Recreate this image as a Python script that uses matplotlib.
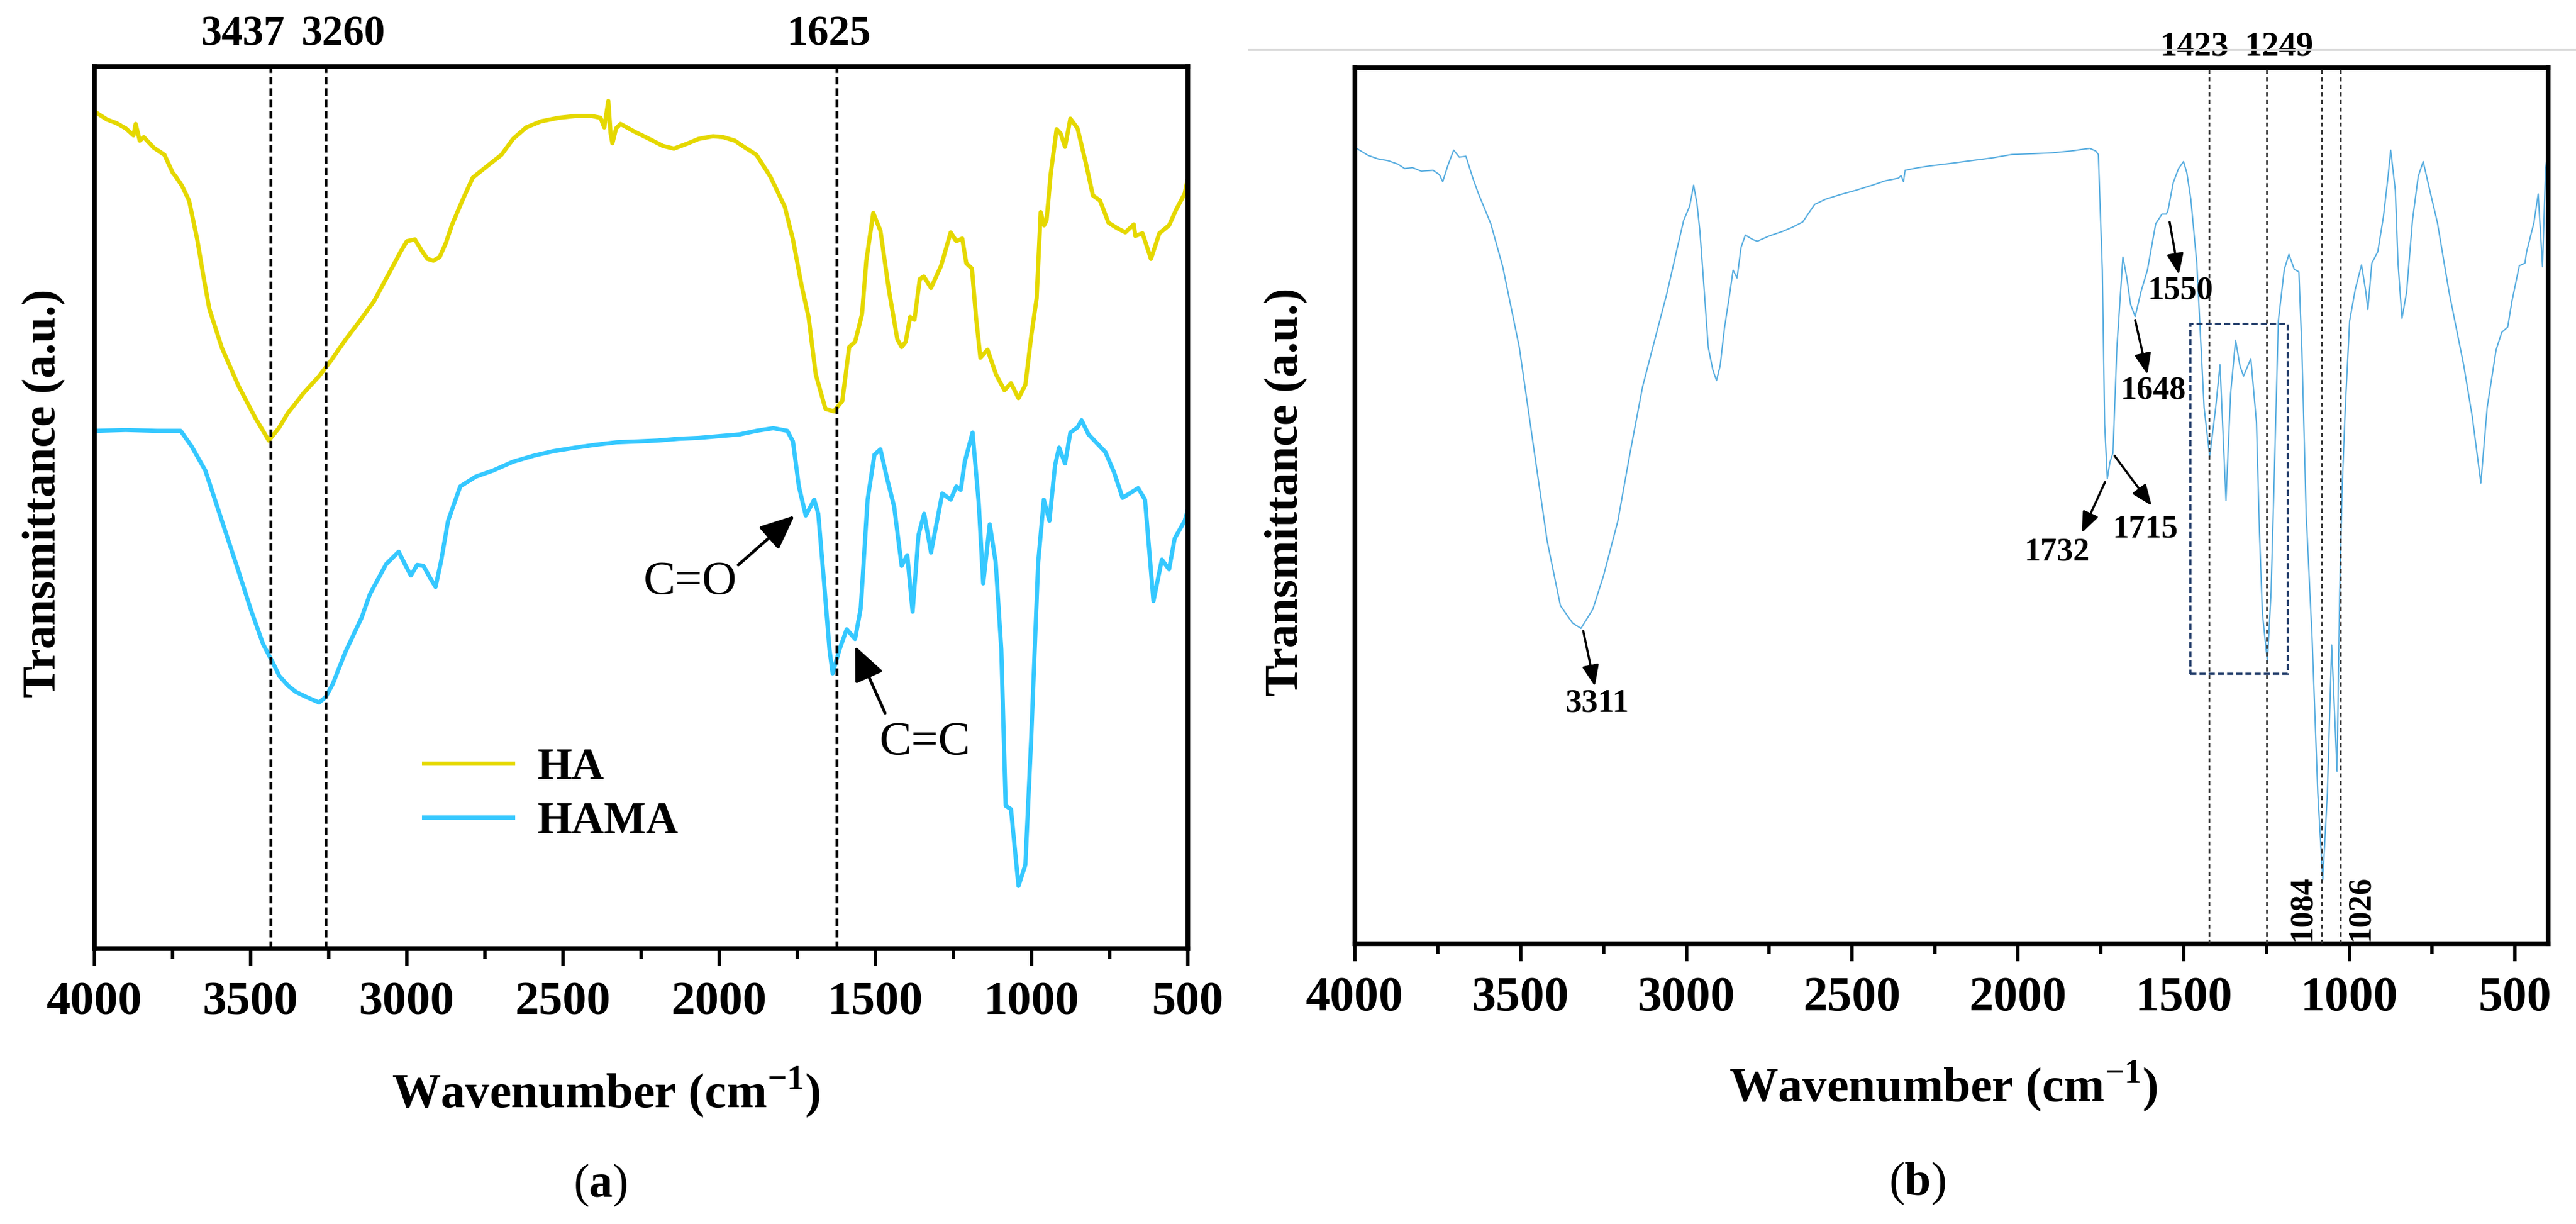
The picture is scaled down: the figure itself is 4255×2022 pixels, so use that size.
import numpy as np
import matplotlib.pyplot as plt
from matplotlib.patches import Rectangle
from matplotlib.lines import Line2D
from matplotlib.ticker import MultipleLocator

plt.rcParams['font.family'] = ['Liberation Serif', 'DejaVu Serif']
plt.rcParams['font.weight'] = 'bold'
plt.rcParams['axes.labelweight'] = 'bold'
plt.rcParams['mathtext.fontset'] = 'custom'
plt.rcParams['mathtext.rm'] = 'Liberation Serif'
plt.rcParams['mathtext.bf'] = 'Liberation Serif:bold'

x_ticks = [4000, 3500, 3000, 2500, 2000, 1500, 1000, 500]

# ---- panel (a): HA and HAMA spectra (wavenumber, transmittance in % of axis height)
ha_wn = [3995, 3960, 3930, 3900, 3875, 3868, 3855, 3842, 3810, 3776, 3750, 3737, 3720,
         3697, 3671, 3650, 3632, 3592, 3539, 3487, 3442, 3410, 3381, 3330, 3281, 3240,
         3197, 3150, 3105, 3052, 3020, 3000, 2974, 2950, 2934, 2915, 2895, 2875, 2855,
         2820, 2789, 2740, 2697, 2660, 2618, 2570, 2513, 2460, 2408, 2380, 2368, 2355,
         2348, 2342, 2330, 2316, 2270, 2224, 2180, 2145, 2100, 2066, 2020, 1987, 1950,
         1921, 1881, 1836, 1790, 1764, 1737, 1714, 1691, 1660, 1633, 1606, 1584, 1565,
         1543, 1529, 1507, 1484, 1457, 1430, 1416, 1403, 1389, 1375, 1358, 1345, 1322,
         1290, 1259, 1241, 1222, 1209, 1191, 1178, 1164, 1141, 1114, 1087, 1066, 1042,
         1020, 1001, 984, 971, 960, 952, 939, 920, 907, 893, 876, 853, 826, 804, 781,
         754, 727, 700, 673, 668, 645, 618, 591, 560, 537, 510, 502]
ha_t = [94.8, 94.0, 93.6, 93.0, 92.2, 93.5, 91.6, 92.0, 90.8, 90.0, 88.0, 87.4, 86.5,
        84.8, 80.4, 76.0, 72.5, 68.1, 63.8, 60.3, 57.6, 59.0, 60.7, 63.0, 64.9, 66.8,
        69.0, 71.2, 73.4, 76.9, 79.0, 80.2, 80.4, 79.0, 78.2, 78.0, 78.4, 80.0, 82.1,
        85.0, 87.4, 88.8, 90.0, 91.8, 93.1, 93.8, 94.2, 94.4, 94.4, 94.2, 93.1, 96.1,
        92.5, 91.3, 93.0, 93.5, 92.6, 91.8, 91.0, 90.7, 91.3, 91.8, 92.1, 92.0, 91.6,
        90.9, 90.0, 87.5, 84.1, 80.4, 75.3, 71.6, 65.1, 61.2, 60.9, 62.1, 68.2, 68.8,
        71.9, 78.0, 83.4, 81.4, 74.7, 69.1, 68.2, 68.8, 71.6, 71.3, 75.9, 76.2, 74.9,
        77.4, 81.2, 80.2, 80.5, 77.7, 77.1, 71.6, 67.0, 67.9, 65.1, 63.3, 64.1, 62.4,
        63.9, 69.5, 73.7, 83.5, 82.0, 82.6, 87.8, 92.9, 92.4, 90.9, 94.1, 93.0, 89.0,
        85.4, 84.8, 82.3, 81.7, 81.2, 82.1, 80.8, 81.1, 78.2, 81.1, 82.0, 83.8, 85.6, 87.0]

hama_wn = [3995, 3900, 3800, 3724, 3690, 3645, 3592, 3539, 3500, 3460, 3430, 3408, 3380,
           3355, 3320, 3281, 3260, 3237, 3197, 3145, 3118, 3066, 3026, 3005, 2987, 2967,
           2947, 2925, 2908, 2890, 2868, 2829, 2780, 2724, 2660, 2592, 2530, 2460, 2400,
           2329, 2260, 2197, 2130, 2066, 2000, 1934, 1881, 1827, 1782, 1764, 1745, 1723,
           1696, 1683, 1665, 1647, 1637, 1615, 1592, 1565, 1547, 1525, 1503, 1484, 1462,
           1440, 1416, 1398, 1381, 1362, 1344, 1322, 1286, 1259, 1241, 1227, 1214, 1189,
           1169, 1155, 1134, 1115, 1097, 1083, 1066, 1042, 1020, 1001, 979, 961, 943,
           925, 912, 893, 876, 853, 840, 818, 764, 736, 709, 659, 637, 610, 583, 560,
           542, 510, 502]
hama_t = [58.7, 58.8, 58.7, 58.7, 57.0, 54.2, 48.5, 42.8, 38.5, 34.5, 32.5, 30.9, 29.8,
          29.1, 28.5, 27.9, 28.5, 30.0, 33.6, 37.5, 40.2, 43.6, 45.0, 43.5, 42.3, 43.5,
          43.4, 42.0, 41.0, 44.0, 48.5, 52.4, 53.5, 54.2, 55.2, 55.9, 56.4, 56.8, 57.1,
          57.4, 57.5, 57.6, 57.8, 57.9, 58.1, 58.3, 58.7, 59.0, 58.7, 57.5, 52.4, 49.1,
          50.9, 49.3, 41.8, 33.9, 31.2, 33.9, 36.2, 35.1, 38.6, 50.9, 56.0, 56.6, 53.2,
          50.1, 43.4, 44.6, 38.2, 46.9, 49.3, 44.9, 51.6, 50.9, 52.4, 52.0, 55.2, 58.5,
          50.4, 41.4, 48.1, 43.8, 33.9, 16.2, 15.8, 7.1, 9.5, 24.1, 43.8, 50.9, 48.5,
          54.8, 56.8, 55.0, 58.5, 59.1, 59.9, 58.3, 56.3, 54.0, 51.1, 52.2, 50.9, 39.4,
          44.1, 43.0, 46.5, 48.5, 49.5]

a_peaks = [3437, 3260, 1625]
a_peak_label_x = [3525, 3204, 1650]
# label, text position, arrow tail, arrow head
a_arrows = [('C=O', (2092, 41.5), (1939, 43.5), (1759, 49.1)),
            ('C=C', (1342, 23.3), (1469, 26.7), (1565, 34.3))]

# ---- panel (b): single spectrum
b_wn = [3995, 3960, 3930, 3900, 3870, 3850, 3826, 3800, 3764, 3745, 3735, 3720, 3702,
        3685, 3665, 3645, 3628, 3590, 3554, 3504, 3454, 3420, 3380, 3343, 3318, 3282,
        3250, 3207, 3170, 3132, 3095, 3059, 3030, 3008, 2990, 2978, 2968, 2959, 2945,
        2934, 2920, 2909, 2898, 2885, 2870, 2859, 2847, 2835, 2822, 2800, 2786, 2750,
        2711, 2680, 2649, 2613, 2580, 2538, 2490, 2439, 2400, 2360, 2352, 2345, 2340,
        2300, 2265, 2200, 2141, 2080, 2018, 1950, 1894, 1840, 1783, 1765, 1757, 1745,
        1738, 1730, 1722, 1713, 1701, 1683, 1671, 1660, 1646, 1628, 1609, 1584, 1565,
        1552, 1547, 1531, 1515, 1500, 1490, 1478, 1460, 1438, 1421, 1403, 1390, 1372,
        1358, 1343, 1330, 1319, 1297, 1280, 1271, 1262, 1247, 1236, 1227, 1214, 1196,
        1182, 1166, 1152, 1143, 1130, 1112, 1095, 1080, 1066, 1053, 1037, 1029, 1021,
        1012, 999, 982, 963, 950, 944, 932, 914, 897, 883, 875, 861, 853, 841, 827,
        809, 792, 777, 757, 734, 699, 655, 629, 603, 584, 557, 540, 522, 509, 487,
        470, 465, 443, 430, 417, 408, 401]
b_t = [90.8, 90.0, 89.6, 89.4, 89.0, 88.5, 88.6, 88.2, 88.3, 87.8, 87.0, 88.8, 90.6,
       89.8, 89.9, 87.5, 85.7, 82.2, 77.3, 68.1, 54.9, 46.0, 38.6, 36.6, 36.0, 38.2,
       42.0, 48.2, 56.0, 63.6, 69.0, 74.2, 79.0, 82.6, 84.2, 86.6, 84.5, 81.3, 74.0,
       68.1, 65.5, 64.3, 66.0, 70.3, 74.0, 76.9, 76.0, 79.5, 80.9, 80.4, 80.2, 80.8,
       81.3, 81.8, 82.4, 84.4, 85.0, 85.5, 86.0, 86.6, 87.1, 87.4, 87.7, 87.0, 88.3,
       88.6, 88.8, 89.1, 89.4, 89.7, 90.1, 90.2, 90.3, 90.5, 90.8, 90.5, 90.1, 76.9,
       59.3, 53.1, 55.0, 56.0, 68.1, 78.4, 76.0, 73.0, 71.6, 74.5, 76.9, 82.2, 83.3,
       83.3, 83.7, 86.9, 88.5, 89.3, 88.0, 85.0, 77.7, 61.2, 55.6, 61.2, 66.1, 50.6,
       62.8, 68.9, 66.0, 64.8, 66.8, 59.5, 47.0, 37.7, 32.2, 40.1, 52.5, 71.1, 77.0,
       78.7, 77.0, 76.7, 67.8, 49.0, 34.8, 17.2, 7.3, 17.2, 34.1, 19.7, 40.1, 52.5,
       61.2, 71.1, 74.7, 77.5, 74.4, 72.4, 77.7, 79.0, 83.0, 87.6, 90.6, 86.0, 77.7,
       71.4, 74.4, 82.7, 87.6, 89.3, 86.0, 82.3, 74.4, 66.1, 60.2, 52.6, 61.2, 67.8,
       69.8, 70.4, 73.4, 77.4, 77.7, 79.0, 82.3, 85.6, 77.3, 88.3, 90.9]

b_lines = [1423, 1249, 1084, 1026]
b_top_labels = ['1423', '1249']
b_top_label_x = [1467, 1213]
b_side_labels = ['1084', '1026']
b_side_label_x = [1141, 966]
b_arrows = [('1550', (1509, 74.5), (1542, 82.4), (1514, 76.4)),
            ('1648', (1591, 63.1), (1646, 71.2), (1609, 65.0)),
            ('1715', (1615, 47.3), (1708, 55.7), (1596, 50.0)),
            ('1732', (1882, 44.7), (1737, 52.7), (1807, 46.9)),
            ('3311', (3269, 27.4), (3311, 35.7), (3276, 29.4))]
b_box = (1479, 1185, 30.8, 70.8)

W, H = 4255, 2022
fig = plt.figure(figsize=(W / 100, H / 100), dpi=100)
ax_a = fig.add_axes([156 / W, 1 - 1567 / H, 1806 / W, 1457 / H])
ax_b = fig.add_axes([2238 / W, 1 - 1559 / H, 1971 / W, 1447 / H])


def style(ax, xmin, size):
    ax.set_xlim(4000, xmin)
    ax.set_ylim(0, 100)
    ax.set_yticks([])
    ax.set_xticks(x_ticks)
    ax.set_xticklabels([str(t) for t in x_ticks], fontweight='bold', fontsize=size)
    ax.xaxis.set_minor_locator(MultipleLocator(250))
    ax.tick_params(axis='x', which='major', direction='out', length=21, width=4, pad=18)
    ax.tick_params(axis='x', which='minor', direction='out', length=12, width=4)
    for sp in ax.spines.values():
        sp.set_linewidth(5.5)


style(ax_a, 500, 57)
style(ax_b, 400, 58)

# panel (a)
ax_a.plot(ha_wn, ha_t, color='#E5D800', lw=5, label='HA', zorder=2)
ax_a.plot(hama_wn, hama_t, color='#35C8FF', lw=5, label='HAMA', zorder=2)
for p, lx in zip(a_peaks, a_peak_label_x):
    ax_a.axvline(p, color='black', lw=3.3, ls=(0, (2.7, 1.4)), zorder=3)
    ax_a.text(lx, 1.036, str(p), transform=ax_a.get_xaxis_transform(),
              ha='center', va='center', fontsize=50)
for lab, txt, tail, head in a_arrows:
    ax_a.text(txt[0], txt[1], lab, ha='center', va='center', fontsize=57,
              fontweight='normal')
    ax_a.annotate('', xy=head, xytext=tail,
                  arrowprops=dict(arrowstyle='-|>,head_length=0.5,head_width=0.22',
                                  color='black', lw=3.5, mutation_scale=70,
                                  shrinkA=0, shrinkB=0))

ax_a.legend(frameon=False, prop=dict(size=53, weight='bold'), handlelength=2.0,
            handletextpad=0.55, labelspacing=0.28, loc='center left',
            bbox_to_anchor=(0.301, 0.174), borderpad=0, borderaxespad=0)

# panel (b)
ax_b.plot(b_wn, b_t, color='#5AAEE0', lw=1.6, zorder=2)
for p in b_lines:
    ax_b.axvline(p, color='#333333', lw=2.0, ls=(0, (2.5, 2.0)), zorder=3)
for lab, lx in zip(b_top_labels, b_top_label_x):
    ax_b.text(lx, 1.024, lab, transform=ax_b.get_xaxis_transform(),
              ha='center', va='center', fontsize=41)
for lab, lx in zip(b_side_labels, b_side_label_x):
    ax_b.text(lx, 4.1, lab, rotation=90, ha='center', va='center', fontsize=39)
for lab, txt, tail, head in b_arrows:
    ax_b.text(txt[0], txt[1], lab, ha='center', va='center', fontsize=39)
    ax_b.annotate('', xy=head, xytext=tail,
                  arrowprops=dict(arrowstyle='-|>,head_length=0.5,head_width=0.2',
                                  color='black', lw=2.6, mutation_scale=42,
                                  shrinkA=0, shrinkB=0))
x0, x1, y0, y1 = b_box
ax_b.add_patch(Rectangle((x0, y0), x1 - x0, y1 - y0, fill=False, ec='#1F3A68',
                         lw=2.6, ls=(0, (2.8, 1.4)), zorder=4))

# axis labels
for ax, xc, yc in [(ax_a, 0.468, -0.046), (ax_b, 0.493, -0.0573)]:
    ax.set_xlabel('Wavenumber (cm$^{-1}$)', fontsize=58, fontweight='bold', va='center')
    ax.xaxis.set_label_coords(xc, -0.163)
    ax.set_ylabel('Transmittance (a.u.)', fontsize=56, fontweight='bold', va='center')
    ax.yaxis.set_label_coords(yc, 0.516)

fig.text(992 / W, 1 - 1958 / H, r'($\mathbf{a}$)', fontsize=56, fontweight='normal',
         ha='center', va='center')
fig.text(3167 / W, 1 - 1955 / H, r'($\mathbf{b}$)', fontsize=56, fontweight='normal',
         ha='center', va='center')

# thin page rule above panel (b)
fig.add_artist(Line2D([2063 / W, 1.0], [1 - 82 / H] * 2, color='#d9d9d9', lw=2.2,
                      transform=fig.transFigure))

# make sure tick labels stay bold after layout
fig.canvas.draw()
for ax in (ax_a, ax_b):
    for lab in ax.get_xticklabels():
        lab.set_fontweight('bold')

fig.savefig('out.png', dpi=100, facecolor='white')
